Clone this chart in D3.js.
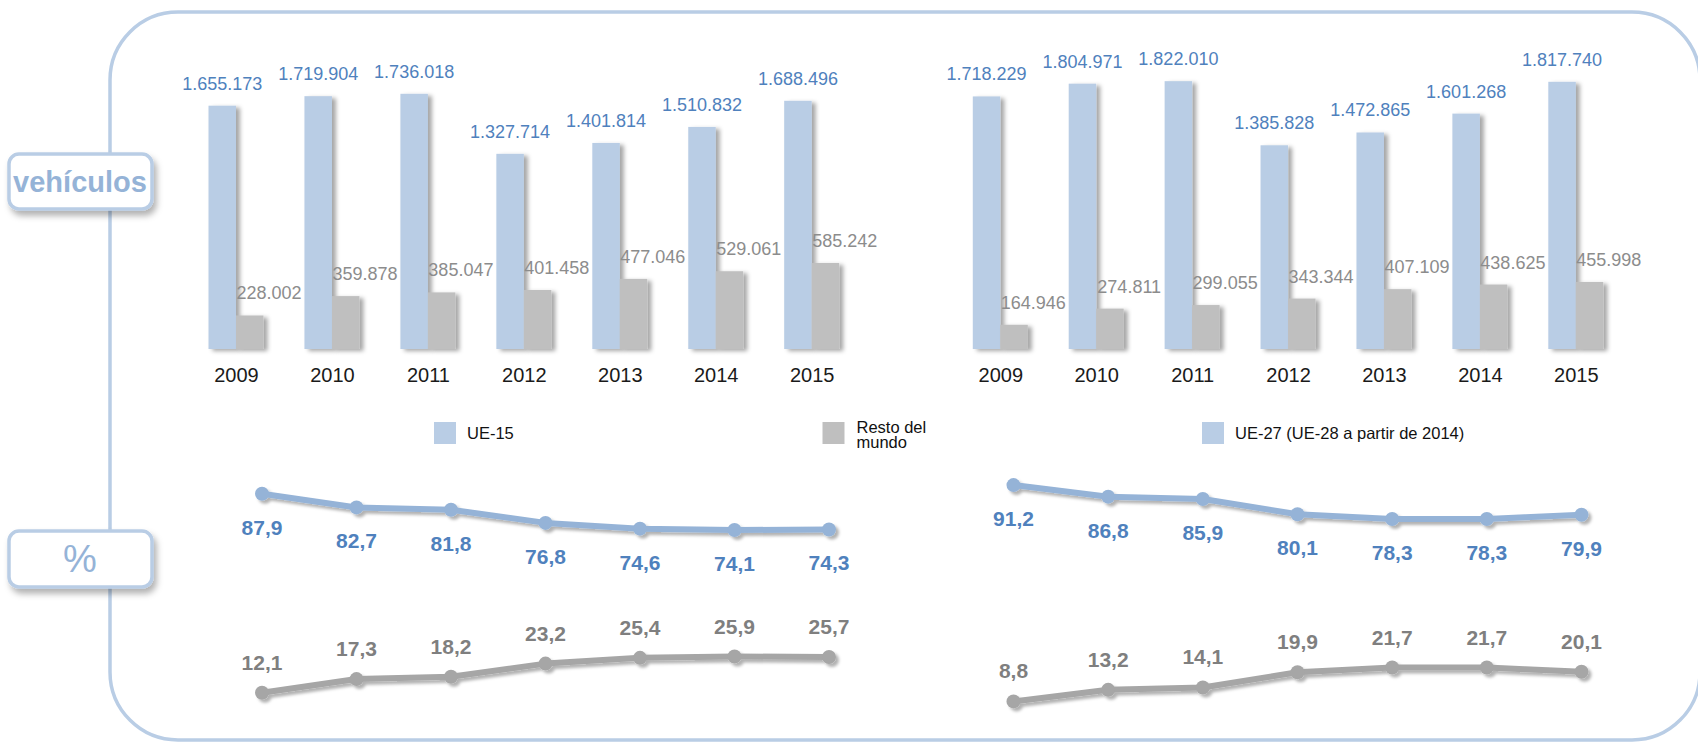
<!DOCTYPE html>
<html>
<head>
<meta charset="utf-8">
<script src="https://d3js.org/d3.v7.min.js"></script>
<style>
 body { margin: 0; background: #ffffff; }
 svg { display: block; }
</style>
</head>
<body>
<svg id="chart" width="1698" height="742"></svg>
<script>
 // datos
 var years = ["2009", "2010", "2011", "2012", "2013", "2014", "2015"];
 var ue15Veh = [1655173, 1719904, 1736018, 1327714, 1401814, 1510832, 1688496];
 var restoVehL = [228002, 359878, 385047, 401458, 477046, 529061, 585242];
 var ue27Veh = [1718229, 1804971, 1822010, 1385828, 1472865, 1601268, 1817740];
 var restoVehR = [164946, 274811, 299055, 343344, 407109, 438625, 455998];
 var ue15Pct = [87.9, 82.7, 81.8, 76.8, 74.6, 74.1, 74.3];
 var restoPctL = [12.1, 17.3, 18.2, 23.2, 25.4, 25.9, 25.7];
 var ue27Pct = [91.2, 86.8, 85.9, 80.1, 78.3, 78.3, 79.9];
 var restoPctR = [8.8, 13.2, 14.1, 19.9, 21.7, 21.7, 20.1];
 var legendLabels = ["UE-15", "Resto del|mundo", "UE-27 (UE-28 a partir de 2014)"];

 var es = d3.formatLocale({decimal: ",", thousands: ".", grouping: [3], currency: ["", " €"]});
 var fmtInt = es.format(",d");
 var fmtPct = es.format(".1f");

 var BLUE = "#b9cde5", GREY = "#bfbfbf", BLUE_TXT = "#4f81bd", GREY_TXT = "#7f7f7f";
 var LINE_BLUE = "#95b3d7", LINE_GREY = "#a6a6a6";
 var numFont = "'Liberation Sans', Arial, sans-serif";

 var svg = d3.select("#chart");
 var defs = svg.append("defs");
 function shadow(id, dx, dy, sd, op) {
     defs.append("filter").attr("id", id)
         .attr("x", "-30%").attr("y", "-30%").attr("width", "160%").attr("height", "160%")
         .append("feDropShadow")
         .attr("dx", dx).attr("dy", dy).attr("stdDeviation", sd)
         .attr("flood-color", "#000").attr("flood-opacity", op);
 }
 shadow("barShadow", 4, 2, 2, 0.35);
 shadow("lineShadow", 3, 3, 1.8, 0.3);
 shadow("boxShadow", 3, 5, 3, 0.3);

 // marco exterior
 svg.append("rect")
    .attr("x", 110).attr("y", 12).attr("width", 1590).attr("height", 728)
    .attr("rx", 68).attr("ry", 68)
    .attr("fill", "none").attr("stroke", BLUE).attr("stroke-width", 3.5);

 // etiquetas laterales
 function sideBox(y, h, txt, size, weight, dy) {
     svg.append("rect")
        .attr("x", 9).attr("y", y).attr("width", 143).attr("height", h)
        .attr("rx", 10).attr("ry", 10)
        .attr("fill", "#fff").attr("stroke", BLUE).attr("stroke-width", 3.5)
        .attr("filter", "url(#boxShadow)");
     svg.append("text")
        .attr("x", 80).attr("y", y + h / 2 + dy)
        .attr("text-anchor", "middle")
        .attr("font-family", numFont).attr("font-size", size).attr("font-weight", weight)
        .attr("fill", LINE_BLUE).text(txt);
 }
 sideBox(154, 55, "vehículos", 29, "bold", 10);
 sideBox(531, 56, "%", 38, "normal", 13);

 var yBar = d3.scaleLinear().domain([0, 2000000]).range([349, 55]);
 var bw = 27.5;

 function bars(range, blueVals, greyVals) {
     var x = d3.scalePoint().domain(years).range(range);
     var g = svg.append("g");
     g.selectAll("rect.b").data(years).enter().append("rect")
        .attr("x", function(d) { return x(d) - bw; })
        .attr("y", function(d, i) { return yBar(blueVals[i]); })
        .attr("width", bw)
        .attr("height", function(d, i) { return yBar(0) - yBar(blueVals[i]); })
        .attr("fill", BLUE).attr("filter", "url(#barShadow)");
     g.selectAll("rect.g").data(years).enter().append("rect")
        .attr("x", function(d) { return x(d); })
        .attr("y", function(d, i) { return yBar(greyVals[i]); })
        .attr("width", bw)
        .attr("height", function(d, i) { return yBar(0) - yBar(greyVals[i]); })
        .attr("fill", GREY).attr("filter", "url(#barShadow)");
     g.selectAll("text.b").data(years).enter().append("text")
        .attr("x", function(d) { return x(d) - bw / 2; })
        .attr("y", function(d, i) { return yBar(blueVals[i]) - 16; })
        .attr("text-anchor", "middle")
        .attr("font-family", numFont).attr("font-size", 18)
        .attr("fill", BLUE_TXT)
        .text(function(d, i) { return fmtInt(blueVals[i]); });
     g.selectAll("text.g").data(years).enter().append("text")
        .attr("x", function(d) { return x(d) + 33; })
        .attr("y", function(d, i) { return yBar(greyVals[i]) - 16; })
        .attr("text-anchor", "middle")
        .attr("font-family", numFont).attr("font-size", 18)
        .attr("fill", "#8c8c8c")
        .text(function(d, i) { return fmtInt(greyVals[i]); });
     var axis = d3.axisBottom(x).tickSize(0).tickPadding(0);
     var ax = g.append("g").attr("transform", "translate(0,382)").call(axis);
     ax.select(".domain").remove();
     ax.selectAll("text")
        .attr("dy", 0)
        .attr("font-family", numFont).attr("font-size", 20)
        .attr("fill", "#1a1a1a");
 }
 bars([236, 811.7], ue15Veh, restoVehL);
 bars([1000.3, 1575.8], ue27Veh, restoVehR);

 // leyenda
 var legend = [
     {x: 434, c: BLUE, t: legendLabels[0]},
     {x: 822.5, c: GREY, t: legendLabels[1]},
     {x: 1202, c: BLUE, t: legendLabels[2]}
 ];
 legend.forEach(function(l) {
     svg.append("rect").attr("x", l.x).attr("y", 422).attr("width", 22).attr("height", 22).attr("fill", l.c);
     var parts = l.t.split("|");
     var t = svg.append("text")
        .attr("font-family", "'Liberation Sans', Arial, sans-serif").attr("font-size", 16.5)
        .attr("fill", "#111");
     if (parts.length == 1) {
         t.attr("x", l.x + 33).attr("y", 439).text(parts[0]);
     } else {
         t.append("tspan").attr("x", l.x + 34).attr("y", 433).text(parts[0]);
         t.append("tspan").attr("x", l.x + 34).attr("y", 448).text(parts[1]);
     }
 });

 // porcentajes
 var yPct = d3.scaleLinear().domain([0, 100]).range([724.5, 462]);

 function pctLine(range, vals, stroke, txtColor, labelDy) {
     var x = d3.scalePoint().domain(years).range(range);
     var line = d3.line()
        .x(function(d) { return x(d); })
        .y(function(d, i) { return yPct(vals[i]); });
     var g = svg.append("g");
     var sg = g.append("g").attr("filter", "url(#lineShadow)");
     sg.append("path").datum(years)
        .attr("d", line)
        .attr("fill", "none").attr("stroke", stroke).attr("stroke-width", 6)
        .attr("stroke-linejoin", "round");
     sg.selectAll("circle").data(years).enter().append("circle")
        .attr("cx", function(d) { return x(d); })
        .attr("cy", function(d, i) { return yPct(vals[i]); })
        .attr("r", 7)
        .attr("fill", stroke);
     g.selectAll("text").data(years).enter().append("text")
        .attr("x", function(d) { return x(d); })
        .attr("y", function(d, i) { return yPct(vals[i]) + labelDy; })
        .attr("text-anchor", "middle")
        .attr("font-family", numFont).attr("font-size", 21).attr("font-weight", "bold")
        .attr("fill", txtColor)
        .text(function(d, i) { return fmtPct(vals[i]); });
 }
 pctLine([262, 829], ue15Pct, LINE_BLUE, BLUE_TXT, 41);
 pctLine([262, 829], restoPctL, LINE_GREY, GREY_TXT, -23);
 pctLine([1013.5, 1581.5], ue27Pct, LINE_BLUE, BLUE_TXT, 41);
 pctLine([1013.5, 1581.5], restoPctR, LINE_GREY, GREY_TXT, -23);
</script>
</body>
</html>
